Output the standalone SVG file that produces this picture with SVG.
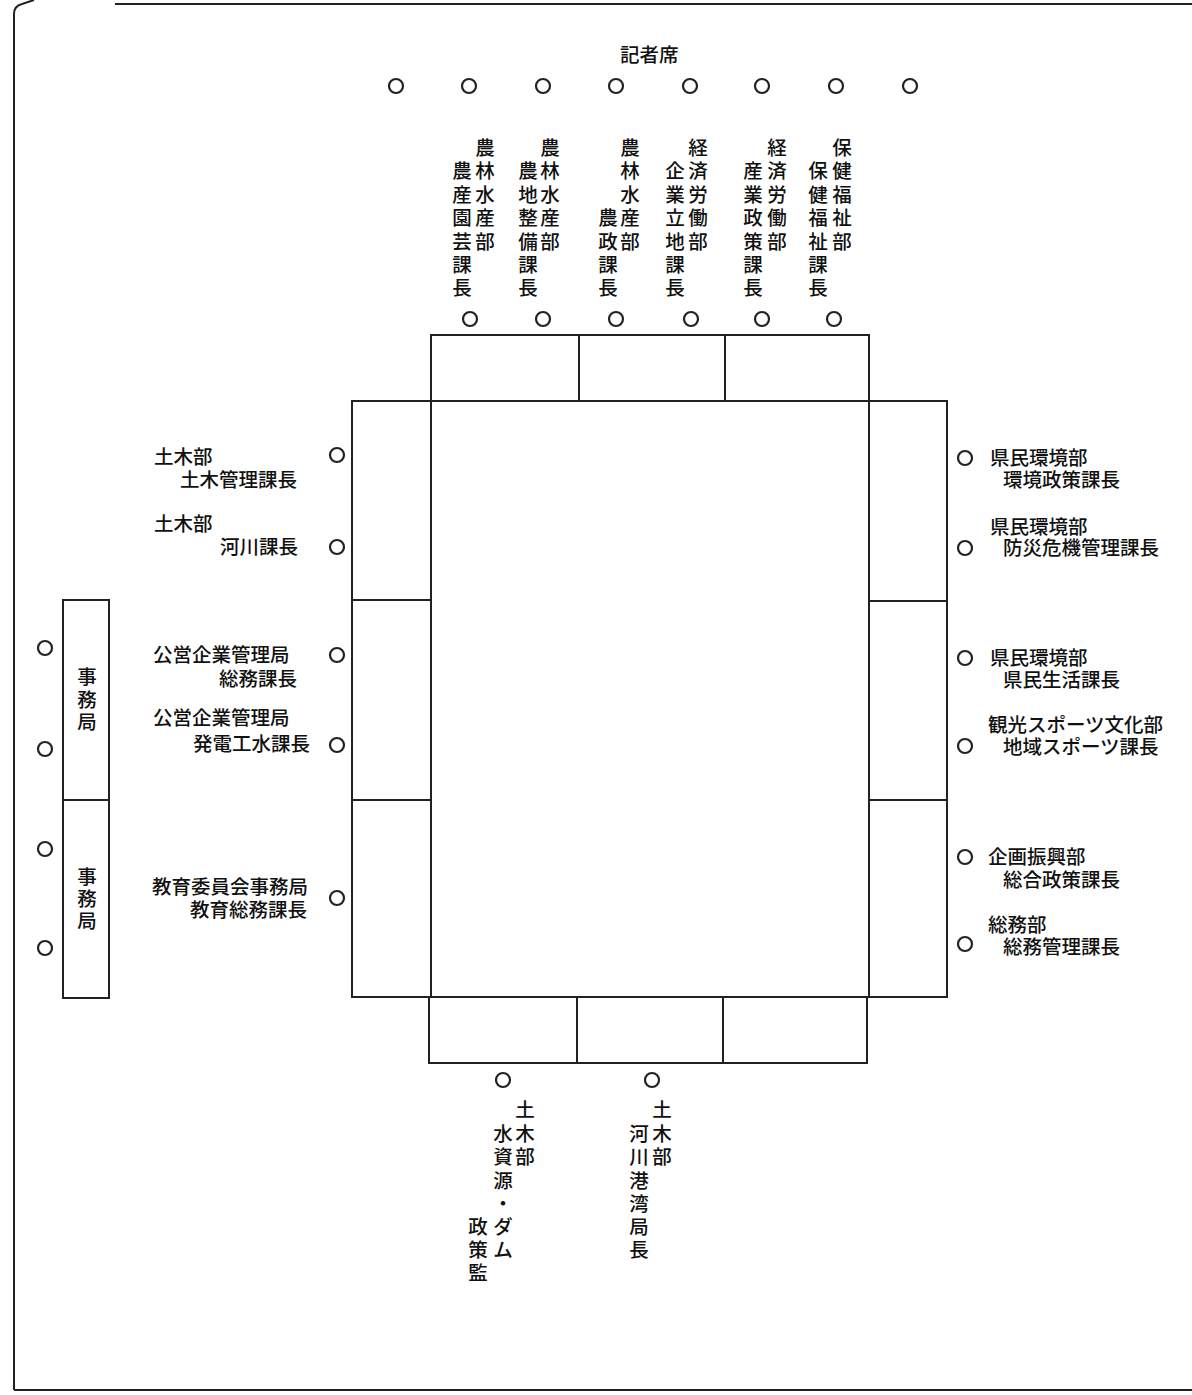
<svg xmlns="http://www.w3.org/2000/svg" width="1192" height="1395" viewBox="0 0 1192 1395">
<style>
.ln{fill:none;stroke:#222;stroke-width:2}
.c{fill:none;stroke:#222;stroke-width:2.2}
text{font-family:"Noto Sans CJK JP","Noto Sans CJK SC",sans-serif;font-size:19.5px;fill:#111;font-weight:500}
.v{text-anchor:middle}
</style>
<rect width="1192" height="1395" fill="#fff"/>
<g id="frame">
<path class="ln" d="M14,1390 L14,14 Q14,6 22,4 L34,0"/>
<path class="ln" d="M115,4 L1192,4"/>
<path class="ln" d="M14,1390 L1192,1390"/>
</g>
<g id="tables">
<rect class="ln" x="431" y="335" width="438" height="66"/>
<line class="ln" x1="579" y1="335" x2="579" y2="401"/>
<line class="ln" x1="725" y1="335" x2="725" y2="401"/>
<rect class="ln" x="352" y="401" width="595" height="596"/>
<line class="ln" x1="431" y1="401" x2="431" y2="997"/>
<line class="ln" x1="869" y1="401" x2="869" y2="997"/>
<line class="ln" x1="352" y1="600" x2="431" y2="600"/>
<line class="ln" x1="352" y1="800" x2="431" y2="800"/>
<line class="ln" x1="869" y1="601" x2="947" y2="601"/>
<line class="ln" x1="869" y1="800" x2="947" y2="800"/>
<rect class="ln" x="429" y="997" width="438" height="66"/>
<line class="ln" x1="577" y1="997" x2="577" y2="1063"/>
<line class="ln" x1="723" y1="997" x2="723" y2="1063"/>
<rect class="ln" x="63" y="600" width="46" height="398"/>
<line class="ln" x1="63" y1="800" x2="109" y2="800"/>
</g>
<g id="press">
<text x="620" y="62">記者席</text>
<circle class="c" cx="396" cy="86" r="7"/>
<circle class="c" cx="469" cy="86" r="7"/>
<circle class="c" cx="543" cy="86" r="7"/>
<circle class="c" cx="616" cy="86" r="7"/>
<circle class="c" cx="690" cy="86" r="7"/>
<circle class="c" cx="762" cy="86" r="7"/>
<circle class="c" cx="836" cy="86" r="7"/>
<circle class="c" cx="910" cy="86" r="7"/>
</g>
<g id="top-seats">
<text class="v"><tspan x="485 485 485 485 485" y="155 178 202 225 249">農林水産部</tspan><tspan x="462 462 462 462 462 462" y="178 202 225 249 272 295">農産園芸課長</tspan></text>
<text class="v"><tspan x="550 550 550 550 550" y="155 178 202 225 249">農林水産部</tspan><tspan x="528 528 528 528 528 528" y="178 202 225 249 272 295">農地整備課長</tspan></text>
<text class="v"><tspan x="630 630 630 630 630" y="155 178 202 225 249">農林水産部</tspan><tspan x="608 608 608 608" y="225 249 272 295">農政課長</tspan></text>
<text class="v"><tspan x="698 698 698 698 698" y="155 178 202 225 249">経済労働部</tspan><tspan x="675 675 675 675 675 675" y="178 202 225 249 272 295">企業立地課長</tspan></text>
<text class="v"><tspan x="777 777 777 777 777" y="155 178 202 225 249">経済労働部</tspan><tspan x="753 753 753 753 753 753" y="178 202 225 249 272 295">産業政策課長</tspan></text>
<text class="v"><tspan x="842 842 842 842 842" y="155 178 202 225 249">保健福祉部</tspan><tspan x="818 818 818 818 818 818" y="178 202 225 249 272 295">保健福祉課長</tspan></text>
<circle class="c" cx="470" cy="319" r="7"/>
<circle class="c" cx="543" cy="319" r="7"/>
<circle class="c" cx="616" cy="319" r="7"/>
<circle class="c" cx="691" cy="319" r="7"/>
<circle class="c" cx="762" cy="319" r="7"/>
<circle class="c" cx="834" cy="319" r="7"/>
</g>
<g id="left-seats">
<text><tspan x="154" y="464">土木部</tspan><tspan x="180" y="487">土木管理課長</tspan></text>
<circle class="c" cx="337" cy="455" r="7"/>
<text><tspan x="154" y="531">土木部</tspan><tspan x="220" y="554">河川課長</tspan></text>
<circle class="c" cx="337" cy="547" r="7"/>
<text><tspan x="153" y="662">公営企業管理局</tspan><tspan x="219" y="686">総務課長</tspan></text>
<circle class="c" cx="337" cy="655" r="7"/>
<text><tspan x="153" y="725">公営企業管理局</tspan><tspan x="193" y="751">発電工水課長</tspan></text>
<circle class="c" cx="337" cy="745" r="7"/>
<text><tspan x="152" y="894">教育委員会事務局</tspan><tspan x="190" y="917">教育総務課長</tspan></text>
<circle class="c" cx="337" cy="898" r="7"/>
</g>
<g id="right-seats">
<circle class="c" cx="965" cy="458" r="7"/>
<text><tspan x="990" y="465">県民環境部</tspan><tspan x="1003" y="487">環境政策課長</tspan></text>
<text><tspan x="990" y="534">県民環境部</tspan><tspan x="1003" y="555">防災危機管理課長</tspan></text>
<circle class="c" cx="965" cy="548" r="7"/>
<circle class="c" cx="965" cy="658" r="7"/>
<text><tspan x="990" y="665">県民環境部</tspan><tspan x="1003" y="687">県民生活課長</tspan></text>
<text><tspan x="988" y="732">観光スポーツ文化部</tspan><tspan x="1003" y="754">地域スポーツ課長</tspan></text>
<circle class="c" cx="965" cy="746" r="7"/>
<circle class="c" cx="965" cy="857" r="7"/>
<text><tspan x="988" y="864">企画振興部</tspan><tspan x="1003" y="887">総合政策課長</tspan></text>
<text><tspan x="988" y="932">総務部</tspan><tspan x="1003" y="954">総務管理課長</tspan></text>
<circle class="c" cx="965" cy="944" r="7"/>
</g>
<g id="secretariat">
<text class="v" x="87 87 87" y="684 707 729">事務局</text>
<text class="v" x="87 87 87" y="884 906 928">事務局</text>
<circle class="c" cx="45" cy="648" r="7"/>
<circle class="c" cx="45" cy="749" r="7"/>
<circle class="c" cx="45" cy="849" r="7"/>
<circle class="c" cx="45" cy="948" r="7"/>
</g>
<g id="bottom-seats">
<circle class="c" cx="503" cy="1080" r="7"/>
<circle class="c" cx="652" cy="1080" r="7"/>
<text class="v"><tspan x="525 525 525" y="1117 1141 1164">土木部</tspan><tspan x="503 503 503 503 503 503" y="1141 1164 1188 1211 1234 1257">水資源・ダム</tspan><tspan x="478 478 478" y="1234 1257 1280">政策監</tspan></text>
<text class="v"><tspan x="662 662 662" y="1117 1141 1164">土木部</tspan><tspan x="639 639 639 639 639 639" y="1141 1164 1188 1211 1234 1257">河川港湾局長</tspan></text>
</g>
</svg>
